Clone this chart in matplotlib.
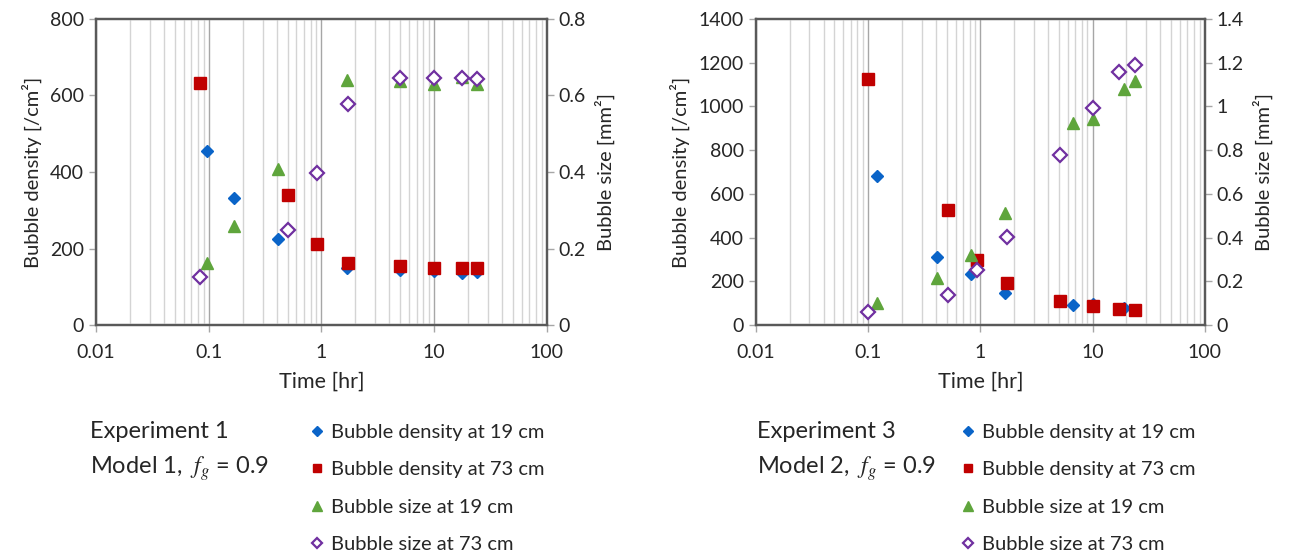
import numpy as np
import matplotlib.pyplot as plt
from matplotlib.ticker import LogLocator, FixedLocator, NullFormatter

plt.rcParams['font.family'] = ['Lato', 'DejaVu Sans']
plt.rcParams['mathtext.fontset'] = 'stix'

# Experiment 1 (left panel)
exp1_t19 = [0.096, 0.166, 0.413, 1.68, 5.0, 10, 17.5, 23.8]
exp1_t73 = [0.083, 0.5, 0.91, 1.72, 5.0, 10, 17.5, 24]
exp1_dens19 = [454, 332, 225, 149, 143, 140, 137, 139]
exp1_dens73 = [632, 340, 213, 162, 153, 150, 150, 150]
exp1_size19 = [0.163, 0.258, 0.407, 0.641, 0.637, 0.63, 0.648, 0.63]
exp1_size73 = [0.125, 0.248, 0.397, 0.578, 0.645, 0.646, 0.645, 0.642]

# Experiment 3 (right panel)
exp3_t19 = [0.12, 0.412, 0.826, 1.64, 6.72, 10, 19.1, 24]
exp3_t73 = [0.1, 0.51, 0.94, 1.74, 5.13, 10, 17.1, 24]
exp3_dens19 = [680, 313, 234, 148, 90, 95, 76, 70]
exp3_dens73 = [1125, 524, 296, 190, 108, 85, 73, 70]
exp3_size19 = [0.1, 0.216, 0.318, 0.513, 0.924, 0.943, 1.079, 1.117]
exp3_size73 = [0.058, 0.137, 0.25, 0.403, 0.779, 0.995, 1.156, 1.19]

labels = ['Bubble density at 19 cm', 'Bubble density at 73 cm',
          'Bubble size at 19 cm', 'Bubble size at 73 cm']
x_ticks = [0.01, 0.1, 1, 10, 100]
x_ticklabels = ['0.01', '0.1', '1', '10', '100']

BLUE = '#0a64c8'
RED = '#c00000'
GREEN = '#5fa53c'
PURPLE = '#7030a0'
SPINE = '#595959'
TXT = '#262626'


def panel(rect, t19, t73, d19, d73, s19, s73, dmax, dstep, smax, sstep, slabels):
    ax = fig.add_axes(rect)
    ax2 = ax.twinx()
    ax.set_xscale('log')
    ax.set_xlim(0.01, 100)
    ax.set_ylim(0, dmax)
    ax2.set_ylim(0, smax)
    ax.set_zorder(ax2.get_zorder() + 1)
    ax.patch.set_visible(False)

    ax.xaxis.set_minor_locator(LogLocator(base=10, subs=np.arange(2, 10)))
    ax.xaxis.set_minor_formatter(NullFormatter())
    ax.xaxis.set_major_locator(FixedLocator(x_ticks))
    ax.set_xticklabels(x_ticklabels)
    ax.grid(True, which='minor', axis='x', color='#d4d4d4', lw=1.0)
    ax.grid(True, which='major', axis='x', color='#a6a6a6', lw=1.0)
    ax.set_axisbelow(True)

    ax.set_yticks(np.arange(0, dmax + 1, dstep))
    ax2.set_yticks(np.arange(0, smax + 1e-9, sstep))
    ax2.set_yticklabels(slabels)

    ax.plot(t19, d19, 'D', color=BLUE, ms=6.5, ls='none', label=labels[0])
    ax.plot(t73, d73, 's', color=RED, ms=8, ls='none', label=labels[1])
    ax.plot(t19, s19, '^', color=GREEN, ms=9, ls='none', label=labels[2],
            transform=ax2.transData)
    ax.plot(t73, s73, 'D', mfc='white', mec=PURPLE, mew=1.6, ms=7, ls='none',
            label=labels[3], transform=ax2.transData)

    for a in (ax, ax2):
        for side in ('left', 'right', 'top', 'bottom'):
            a.spines[side].set_color(SPINE)
            a.spines[side].set_linewidth(1.6)
        a.tick_params(axis='both', which='major', labelsize=14, colors='#a6a6a6',
                      labelcolor=TXT, length=5, width=1)
        a.tick_params(axis='x', which='minor', length=0)
    ax.tick_params(axis='x', pad=9)

    ax.set_xlabel('Time [hr]', fontsize=15.5, color=TXT, labelpad=7)
    ax.set_ylabel('Bubble density [/cm²]', fontsize=14.5, color=TXT, labelpad=6)
    ax2.set_ylabel('Bubble size [mm²]', fontsize=14.5, color=TXT, labelpad=6)
    return ax


fig = plt.figure(figsize=(12.9, 5.55), dpi=100)

ax_l = panel([0.0744, 0.4144, 0.3496, 0.5514], exp1_t19, exp1_t73,
             exp1_dens19, exp1_dens73, exp1_size19, exp1_size73,
             800, 200, 0.8, 0.2, ['0', '0.2', '0.4', '0.6', '0.8'])
ax_r = panel([0.586, 0.4144, 0.348, 0.5514], exp3_t19, exp3_t73,
             exp3_dens19, exp3_dens73, exp3_size19, exp3_size73,
             1400, 200, 1.4, 0.2,
             ['0', '0.2', '0.4', '0.6', '0.8', '1', '1.2', '1.4'])

handles, _ = ax_l.get_legend_handles_labels()
for x_title, x_leg, exp_name, model in [(90, 309, 'Experiment 1', 'Model 1'),
                                         (757, 960, 'Experiment 3', 'Model 2')]:
    fig.text(x_title / 1290, 1 - 432 / 555, exp_name, fontsize=17, color=TXT,
             va='center')
    fig.text(x_title / 1290, 1 - 469 / 555, model + ',  $f_g$ = 0.9', fontsize=17,
             color=TXT, va='center')
    fig.legend(handles, labels, loc='upper left',
               bbox_to_anchor=(x_leg / 1290, 1 - 424 / 555), frameon=False,
               fontsize=14.5, handlelength=0.8, handletextpad=0.3,
               labelspacing=1.0, markerscale=0.8, labelcolor=TXT,
               borderaxespad=0, borderpad=0)

fig.savefig('out.png', dpi=100)
